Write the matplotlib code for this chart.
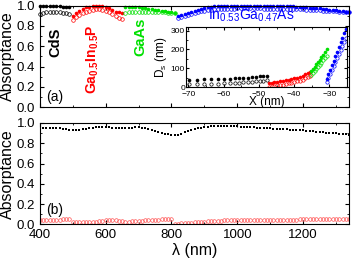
import numpy as np
import matplotlib
matplotlib.use("Agg")
import matplotlib.pyplot as plt
from matplotlib.ticker import MultipleLocator

plt.rcParams['font.family'] = ['Liberation Sans', 'DejaVu Sans']
plt.rcParams['mathtext.fontset'] = 'custom'
plt.rcParams['mathtext.rm'] = 'Liberation Sans'
plt.rcParams['mathtext.bf'] = 'Liberation Sans:bold'
plt.rcParams['mathtext.default'] = 'regular'

# Oberes Panel (a): Absorptanz der einzelnen Materialien
wl_cds = [400, 410, 420, 430, 440, 450, 460, 470, 480, 490]
cds_fill = [0.995, 0.995, 0.995, 0.995, 0.995, 0.995, 0.995, 0.99, 0.99, 0.985]
cds_open = [0.92, 0.93, 0.935, 0.935, 0.935, 0.935, 0.935, 0.93, 0.925, 0.92]

wl_gainp = [500, 510, 520, 530, 540, 550, 560, 570, 580, 590, 600, 610, 620, 630, 640, 650]
gainp_fill = [0.90, 0.93, 0.95, 0.97, 0.985, 0.99, 0.995, 0.997, 0.997, 0.995, 0.99, 0.975, 0.955, 0.94, 0.935, 0.93]
gainp_open = [0.86, 0.885, 0.905, 0.925, 0.94, 0.952, 0.96, 0.965, 0.965, 0.96, 0.95, 0.935, 0.915, 0.895, 0.88, 0.87]

wl_gaas = [660, 670, 680, 690, 700, 710, 720, 730, 740, 750, 760, 770, 780, 790, 800, 810]
gaas_fill = [0.985, 0.99, 0.99, 0.99, 0.985, 0.98, 0.975, 0.97, 0.965, 0.96, 0.955, 0.95, 0.945, 0.94, 0.935, 0.93]
gaas_open = [0.93, 0.935, 0.935, 0.94, 0.94, 0.94, 0.94, 0.94, 0.94, 0.94, 0.94, 0.935, 0.935, 0.93, 0.93, 0.925]

wl_ingaas = [820, 830, 840, 850, 860, 870, 880, 890, 900, 910, 920, 930, 940, 950, 960, 970, 980, 990,
             1000, 1010, 1020, 1030, 1040, 1050, 1060, 1070, 1080, 1090, 1100, 1110, 1120, 1130, 1140,
             1150, 1160, 1170, 1180, 1190, 1200, 1210, 1220, 1230, 1240, 1250, 1260, 1270, 1280, 1290,
             1300, 1310, 1320, 1330, 1340]
ingaas_fill = [0.90, 0.91, 0.92, 0.93, 0.94, 0.95, 0.96, 0.97, 0.978, 0.985, 0.99, 0.993, 0.995, 0.996, 0.996,
               0.996, 0.996, 0.996, 0.996, 0.996, 0.996, 0.996, 0.996, 0.996, 0.996, 0.996, 0.996, 0.996,
               0.996, 0.996, 0.996, 0.996, 0.996, 0.995, 0.994, 0.993, 0.991, 0.989, 0.987, 0.985, 0.982,
               0.979, 0.976, 0.973, 0.97, 0.966, 0.962, 0.958, 0.954, 0.95, 0.946, 0.942, 0.938]
ingaas_open = [0.875, 0.885, 0.895, 0.905, 0.915, 0.925, 0.935, 0.943, 0.95, 0.956, 0.96, 0.964, 0.967, 0.969,
               0.97, 0.971, 0.972, 0.972, 0.973, 0.973, 0.973, 0.973, 0.973, 0.973, 0.973, 0.973, 0.972,
               0.972, 0.972, 0.971, 0.971, 0.97, 0.97, 0.969, 0.968, 0.967, 0.966, 0.965, 0.963, 0.961,
               0.959, 0.957, 0.955, 0.953, 0.951, 0.949, 0.947, 0.945, 0.943, 0.941, 0.939, 0.937, 0.935]

# Unteres Panel (b): Gesamtabsorptanz und Verlust
wl_all = [400, 410, 420, 430, 440, 450, 460, 470, 480, 490, 500, 510, 520, 530, 540, 550, 560, 570, 580,
          590, 600, 610, 620, 630, 640, 650, 660, 670, 680, 690, 700, 710, 720, 730, 740, 750, 760, 770,
          780, 790, 800, 810, 820, 830, 840, 850, 860, 870, 880, 890, 900, 910, 920, 930, 940, 950, 960,
          970, 980, 990, 1000, 1010, 1020, 1030, 1040, 1050, 1060, 1070, 1080, 1090, 1100, 1110, 1120,
          1130, 1140, 1150, 1160, 1170, 1180, 1190, 1200, 1210, 1220, 1230, 1240, 1250, 1260, 1270,
          1280, 1290, 1300, 1310, 1320, 1330, 1340]
total_abs = [0.955, 0.955, 0.955, 0.955, 0.955, 0.955, 0.95, 0.945, 0.94, 0.935, 0.93, 0.93, 0.935, 0.94,
             0.945, 0.95, 0.955, 0.958, 0.96, 0.96, 0.96, 0.958, 0.955, 0.952, 0.95, 0.948, 0.948, 0.95,
             0.955, 0.958, 0.958, 0.955, 0.95, 0.945, 0.935, 0.925, 0.915, 0.905, 0.895, 0.888, 0.882,
             0.88, 0.885, 0.895, 0.91, 0.92, 0.93, 0.94, 0.948, 0.955, 0.96, 0.963, 0.966, 0.968, 0.969,
             0.97, 0.97, 0.97, 0.969, 0.968, 0.966, 0.964, 0.962, 0.96, 0.958, 0.956, 0.954, 0.952, 0.95,
             0.948, 0.946, 0.944, 0.942, 0.94, 0.938, 0.936, 0.934, 0.932, 0.93, 0.928, 0.926, 0.924,
             0.921, 0.918, 0.915, 0.912, 0.909, 0.906, 0.903, 0.9, 0.897, 0.894, 0.891, 0.888, 0.885]
loss = [0.04, 0.04, 0.04, 0.042, 0.043, 0.045, 0.047, 0.05, 0.053, 0.056, 0.02, 0.02, 0.022, 0.022, 0.024,
        0.025, 0.026, 0.028, 0.03, 0.035, 0.04, 0.042, 0.042, 0.04, 0.038, 0.035, 0.025, 0.027, 0.03,
        0.033, 0.036, 0.038, 0.04, 0.042, 0.044, 0.046, 0.048, 0.05, 0.052, 0.054, 0.056, 0.005, 0.008,
        0.01, 0.012, 0.015, 0.018, 0.02, 0.022, 0.025, 0.028, 0.03, 0.032, 0.034, 0.036, 0.038, 0.039,
        0.04, 0.041, 0.042, 0.042, 0.043, 0.043, 0.044, 0.044, 0.044, 0.045, 0.045, 0.045, 0.046,
        0.046, 0.046, 0.047, 0.047, 0.047, 0.048, 0.048, 0.048, 0.048, 0.049, 0.049, 0.049, 0.049,
        0.05, 0.05, 0.05, 0.05, 0.05, 0.051, 0.051, 0.051, 0.051, 0.052, 0.052, 0.052]

# Inset: D_s ueber X
x_cds = [-69.9, -67.5, -65.5, -63.5, -61.5, -59.8, -58.2, -56.8, -55.6, -54.4, -53.2, -52.1, -50.9, -49.7, -48.8, -47.8]
ds_cds_fill = [40, 41, 42, 43, 44, 45, 46, 47, 48, 50, 52, 54, 56, 58, 60, 62]
ds_cds_open = [16, 17, 18, 19, 20, 21, 22, 23, 24, 26, 28, 30, 32, 34, 36, 38]
x_gainp = [-47.2, -46.4, -45.6, -44.8, -44.0, -43.2, -42.4, -41.6, -40.8, -40.0, -39.2, -38.4, -37.6, -36.8, -36.1, -35.4]
ds_gainp_fill = [22, 24, 26, 28, 31, 34, 37, 40, 44, 48, 52, 57, 62, 68, 74, 80]
ds_gainp_open = [4, 6, 8, 10, 12, 15, 18, 21, 24, 28, 32, 36, 41, 47, 53, 60]
x_gaas = [-35.2, -34.7, -34.2, -33.8, -33.3, -32.8, -32.3, -31.8, -31.3, -30.8]
ds_gaas_fill = [84, 96, 109, 121, 134, 147, 160, 173, 187, 200]
ds_gaas_open = [66, 76, 87, 97, 108, 119, 130, 142, 154, 166]
x_ingaas = [-30.8, -30.3, -29.8, -29.3, -28.8, -28.3, -27.8, -27.3, -26.8, -26.3, -25.8, -25.3]
ds_ingaas_fill = [45, 69, 93, 117, 141, 165, 189, 213, 237, 261, 285, 309]
ds_ingaas_open = [28, 49, 70, 91, 112, 133, 154, 175, 196, 217, 238, 259]

farben = ['black', 'red', '#00e000', 'blue']

fig = plt.figure(figsize=(3.53, 2.60), dpi=100)
ax1 = fig.add_axes([0.113, 0.588, 0.876, 0.390])
ax2 = fig.add_axes([0.113, 0.137, 0.876, 0.390])
axin = fig.add_axes([0.528, 0.664, 0.455, 0.233])

gefuellt = dict(marker='o', linestyle='none', markersize=2.6, markeredgewidth=0)
offen = dict(marker='o', linestyle='none', markersize=2.6, markeredgewidth=0.5, markerfacecolor='none')

segmente = [(wl_cds, cds_fill, cds_open), (wl_gainp, gainp_fill, gainp_open),
            (wl_gaas, gaas_fill, gaas_open), (wl_ingaas, ingaas_fill, ingaas_open)]
for (wl, fill, op), col in zip(segmente, farben):
    ax1.plot(wl, op, color=col, clip_on=False, **offen)
    ax1.plot(wl, fill, color=col, clip_on=False, **gefuellt)

inset_seg = [(x_cds, ds_cds_fill, ds_cds_open), (x_gainp, ds_gainp_fill, ds_gainp_open),
             (x_gaas, ds_gaas_fill, ds_gaas_open), (x_ingaas, ds_ingaas_fill, ds_ingaas_open)]
for (xx, fill, op), col in zip(inset_seg, farben):
    axin.plot(xx, op, color=col, **dict(offen, markersize=2.4))
    axin.plot(xx, fill, color=col, **dict(gefuellt, markersize=2.6))

ax2.plot(wl_all, total_abs, color='black', marker='s', linestyle='none', markersize=2.0, markeredgewidth=0)
ax2.plot(wl_all, loss, color='#ff5050', **offen)

for ax in (ax1, ax2):
    ax.set_xlim(400, 1340)
    ax.set_ylim(0, 1.0)
    ax.xaxis.set_major_locator(MultipleLocator(200))
    ax.xaxis.set_minor_locator(MultipleLocator(100))
    ax.yaxis.set_major_locator(MultipleLocator(0.2))
    ax.yaxis.set_minor_locator(MultipleLocator(0.1))
    ax.tick_params(which='both', direction='in', top=True, right=True, labelsize=9.5)
    ax.tick_params(which='major', length=3)
    ax.tick_params(which='minor', length=1.5)
    ax.set_ylabel("Absorptance", fontsize=11.5, labelpad=1)
    ax.yaxis.set_major_formatter(matplotlib.ticker.FormatStrFormatter('%.1f'))

ax1.tick_params(labelbottom=False)
ax2.set_xlabel("λ (nm)", fontsize=11.5, labelpad=1)

ax1.text(448, 0.64, "CdS", rotation=90, fontsize=10.5, fontweight='bold', color='black', ha='center', va='center')
ax1.text(561, 0.47, "Ga$\\mathbf{_{0.5}}$In$\\mathbf{_{0.5}}$P", rotation=90, fontsize=10, fontweight='bold',
         color='red', ha='center', va='center')
ax1.text(706, 0.69, "GaAs", rotation=90, fontsize=10.5, fontweight='bold', color='#00e000', ha='center', va='center')
ax1.text(1042, 0.86, "In$_{0.53}$Ga$_{0.47}$As", fontsize=10, color='blue', ha='center', va='baseline')
ax1.text(420, 0.1, "(a)", fontsize=10, va='center')
ax2.text(420, 0.14, "(b)", fontsize=10, va='center')

axin.set_xlim(-70.6, -25)
axin.set_ylim(0, 320)
axin.xaxis.set_major_locator(MultipleLocator(10))
axin.xaxis.set_minor_locator(MultipleLocator(5))
axin.yaxis.set_major_locator(MultipleLocator(100))
axin.yaxis.set_minor_locator(MultipleLocator(50))
axin.tick_params(which='both', direction='in', top=True, right=True, labelsize=6, pad=1)
axin.tick_params(axis='x', which='major', pad=2.5)
axin.tick_params(which='major', length=2.5)
axin.tick_params(which='minor', length=1.2)
axin.set_xlabel("X (nm)", fontsize=8.5, labelpad=-1)
axin.set_ylabel("D$_s$ (nm)", fontsize=8.5, labelpad=1)

plt.savefig("out.png", dpi=100)
